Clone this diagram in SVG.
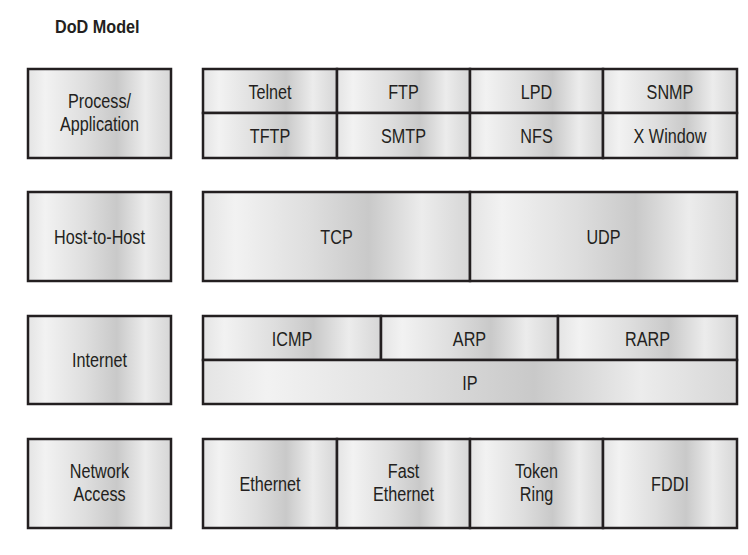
<svg xmlns="http://www.w3.org/2000/svg" width="748" height="555" viewBox="0 0 748 555">
<defs>
<linearGradient id="g" x1="0" y1="0" x2="1" y2="0">
<stop offset="0" stop-color="#e4e4e4"/>
<stop offset="0.12" stop-color="#f2f2f2"/>
<stop offset="0.4" stop-color="#dedede"/>
<stop offset="0.62" stop-color="#c9c9c9"/>
<stop offset="0.82" stop-color="#ececec"/>
<stop offset="1" stop-color="#d6d6d6"/>
</linearGradient>
<style>
.c{fill:url(#g);stroke:#231f20;stroke-width:2.5}
.t{font-family:"Liberation Sans",Arial,sans-serif;font-size:20px;fill:#231f20;text-anchor:middle}
.h{font-family:"Liberation Sans",Arial,sans-serif;font-size:18px;font-weight:bold;fill:#231f20}
</style>
</defs>
<rect width="748" height="555" fill="#ffffff"/>
<text class="h" transform="translate(55,33) scale(0.9,1)">DoD Model</text>
<g id="process-application">
<rect class="c" x="28" y="69" width="143" height="89"/>
<text class="t" transform="translate(99.5,108) scale(0.81,1)">Process/</text>
<text class="t" transform="translate(99.5,131) scale(0.81,1)">Application</text>
</g>
<g id="host-to-host">
<rect class="c" x="28" y="192" width="143" height="89"/>
<text class="t" transform="translate(99.5,244) scale(0.81,1)">Host-to-Host</text>
</g>
<g id="internet">
<rect class="c" x="28" y="316" width="143" height="88"/>
<text class="t" transform="translate(99.5,367) scale(0.81,1)">Internet</text>
</g>
<g id="network-access">
<rect class="c" x="28" y="439" width="143" height="89"/>
<text class="t" transform="translate(99.5,478) scale(0.81,1)">Network</text>
<text class="t" transform="translate(99.5,501) scale(0.81,1)">Access</text>
</g>
<g id="telnet"><rect class="c" x="203" y="69" width="134" height="44"/><text class="t" transform="translate(270,98.5) scale(0.81,1)">Telnet</text></g>
<g id="ftp"><rect class="c" x="337" y="69" width="133" height="44"/><text class="t" transform="translate(403.5,98.5) scale(0.81,1)">FTP</text></g>
<g id="lpd"><rect class="c" x="470" y="69" width="133" height="44"/><text class="t" transform="translate(536.5,98.5) scale(0.81,1)">LPD</text></g>
<g id="snmp"><rect class="c" x="603" y="69" width="134" height="44"/><text class="t" transform="translate(670,98.5) scale(0.81,1)">SNMP</text></g>
<g id="tftp"><rect class="c" x="203" y="113" width="134" height="45"/><text class="t" transform="translate(270,142.5) scale(0.81,1)">TFTP</text></g>
<g id="smtp"><rect class="c" x="337" y="113" width="133" height="45"/><text class="t" transform="translate(403.5,142.5) scale(0.81,1)">SMTP</text></g>
<g id="nfs"><rect class="c" x="470" y="113" width="133" height="45"/><text class="t" transform="translate(536.5,142.5) scale(0.81,1)">NFS</text></g>
<g id="xwindow"><rect class="c" x="603" y="113" width="134" height="45"/><text class="t" transform="translate(670,142.5) scale(0.81,1)">X Window</text></g>
<g id="tcp"><rect class="c" x="203" y="192" width="267" height="89"/><text class="t" transform="translate(336.5,244) scale(0.81,1)">TCP</text></g>
<g id="udp"><rect class="c" x="470" y="192" width="267" height="89"/><text class="t" transform="translate(603.5,244) scale(0.81,1)">UDP</text></g>
<g id="icmp"><rect class="c" x="203" y="316" width="178" height="44"/><text class="t" transform="translate(292,345.5) scale(0.81,1)">ICMP</text></g>
<g id="arp"><rect class="c" x="381" y="316" width="177" height="44"/><text class="t" transform="translate(469.5,345.5) scale(0.81,1)">ARP</text></g>
<g id="rarp"><rect class="c" x="558" y="316" width="179" height="44"/><text class="t" transform="translate(647.5,345.5) scale(0.81,1)">RARP</text></g>
<g id="ip"><rect class="c" x="203" y="360" width="534" height="44"/><text class="t" transform="translate(470,389.5) scale(0.81,1)">IP</text></g>
<g id="ethernet"><rect class="c" x="203" y="439" width="134" height="89"/><text class="t" transform="translate(270,490.5) scale(0.81,1)">Ethernet</text></g>
<g id="fast-ethernet"><rect class="c" x="337" y="439" width="133" height="89"/><text class="t" transform="translate(403.5,478) scale(0.81,1)">Fast</text><text class="t" transform="translate(403.5,501) scale(0.81,1)">Ethernet</text></g>
<g id="token-ring"><rect class="c" x="470" y="439" width="133" height="89"/><text class="t" transform="translate(536.5,478) scale(0.81,1)">Token</text><text class="t" transform="translate(536.5,501) scale(0.81,1)">Ring</text></g>
<g id="fddi"><rect class="c" x="603" y="439" width="134" height="89"/><text class="t" transform="translate(670,490.5) scale(0.81,1)">FDDI</text></g>
<g id="connectors"/>
</svg>
